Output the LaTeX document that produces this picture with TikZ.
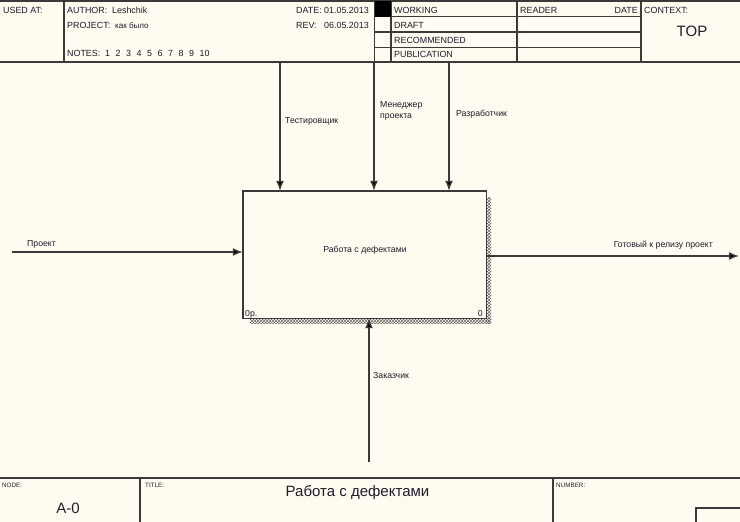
\documentclass[tikz,border=0pt]{standalone}
\usepackage{fontspec}
\setmainfont{Liberation Sans}
\usetikzlibrary{arrows.meta,patterns}

\definecolor{paper}{HTML}{FFFBF0}
\definecolor{rule}{HTML}{3A3A3A}
\definecolor{ink}{HTML}{1C1C2A}

\tikzset{
  frame/.style={draw=rule,line width=1.5pt},
  head/.style={anchor=base west,inner sep=0pt,text=ink,font=\fontsize{8.9}{11}\selectfont},
  small/.style={anchor=base west,inner sep=0pt,text=ink,font=\fontsize{6.3}{8}\selectfont},
  big/.style={anchor=base,inner sep=0pt,text=ink,font=\fontsize{15}{18}\selectfont},
  tag/.style={anchor=base west,inner sep=0pt,text=ink,font=\fontsize{8.7}{10.5}\selectfont},
  flow/.style={draw=rule,line width=1.4pt,-{Latex[length=10pt,width=8pt,fill=black]}},
  hatch/.style={pattern=crosshatch,pattern color=black!60},
}

\begin{document}
\begin{tikzpicture}[x=1pt,y=-1pt]
  \fill[paper] (0,0) rectangle (740,522);
  \useasboundingbox (0,0) rectangle (740,522);

  % header frame
  \draw[frame] (0,1) -- (740,1);
  \draw[frame] (0,62) -- (740,62);
  \foreach \x in {64,374.5,391,517,641} \draw[frame] (\x,1) -- (\x,62);
  \foreach \y in {16.5,32,47.5} \draw[frame] (374.5,\y) -- (641,\y);
  \fill[black] (374.5,1) rectangle (391,16.5);

  % header texts
  \node[head] (usedat) at (3,13.5) {USED AT:};
  \node[head] (author) at (67,13.5) {AUTHOR:\ \ Leshchik};
  \node[head] (project) at (67,28) {PROJECT:\ \ {\fontsize{8}{9}\selectfont как было}};
  \node[head] (notes) at (67,56.5) {NOTES:};
  \foreach \n in {1,...,10}
    \node[head] (note\n) at ({105+10.5*(\n-1)},56.5) {\n};
  \node[head] (datel) at (296,13.5) {DATE:};
  \node[head] (datev) at (324,13.5) {01.05.2013};
  \node[head] (revl) at (296,28) {REV:};
  \node[head] (revv) at (324,28) {06.05.2013};
  \node[head] (working) at (394,13.5) {WORKING};
  \node[head] (draft) at (394,28) {DRAFT};
  \node[head] (recom) at (394,43) {RECOMMENDED};
  \node[head] (public) at (394,57) {PUBLICATION};
  \node[head] (reader) at (520,13.5) {READER};
  \node[head,anchor=base east] (rdate) at (638,13.5) {DATE};
  \node[head] (context) at (644,13.5) {CONTEXT:};
  \node[big] (top) at (692,37) {TOP};

  % footer frame
  \draw[frame] (0,478) -- (740,478);
  \draw[frame] (140,478) -- (140,522);
  \draw[frame] (553,478) -- (553,522);
  \draw[frame] (696,522) -- (696,508) -- (740,508);
  \node[small] (nodel) at (2,487) {NODE:};
  \node[big] (nodev) at (68,513) {A-0};
  \node[small] (titlel) at (145,487) {TITLE:};
  \node[big] (titlev) at (357.5,496) {Работа с дефектами};
  \node[small] (numberl) at (556,487) {NUMBER:};

  % activity box with shadow
  \coordinate (boxc) at (364.5,254.5);
  \node[minimum width=243pt,minimum height=127pt,inner sep=0pt] (task) at (boxc) {};
  \fill[hatch] ([yshift=-7pt]task.north east) rectangle ([xshift=5pt,yshift=-5pt]task.south east);
  \fill[hatch] ([xshift=7pt]task.south west) rectangle ([xshift=5pt,yshift=-5pt]task.south east);
  \draw[rule,line width=1.4pt,fill=paper] (task.north west) rectangle (task.south east);
  \node[tag,anchor=base] (tasktext) at (365,252.5) {Работа с дефектами};
  \node[tag] (cost) at (245,316.5) {0р.};
  \node[tag,anchor=base east] (num) at (483,316.5) {0};

  % arrows
  \coordinate (inp) at (12,252);
  \coordinate (outp) at (739,256);
  \coordinate (ctl1) at (280,62);
  \coordinate (ctl2) at (374,62);
  \coordinate (ctl3) at (449,62);
  \coordinate (mech) at (369,462);
  \draw[flow] (inp) -- (inp -| task.west);
  \draw[flow] (outp -| task.east) -- (outp);
  \draw[flow] (ctl1) -- (ctl1 |- task.north);
  \draw[flow] (ctl2) -- (ctl2 |- task.north);
  \draw[flow] (ctl3) -- (ctl3 |- task.north);
  \draw[flow] (mech) -- (mech |- task.south);

  % arrow labels
  \node[tag] (inpl) at (27,246) {Проект};
  \node[tag,anchor=base east] (outpl) at (713,247) {Готовый к релизу проект};
  \node[tag] (ctl1l) at (285,123) {Тестировщик};
  \node[tag,anchor=north west,align=left] (ctl2l) at (380,101.5) {Менеджер\\проекта};
  \node[tag] (ctl3l) at (456,116.5) {Разработчик};
  \node[tag] (mechl) at (373,378) {Заказчик};
\end{tikzpicture}
\end{document}
